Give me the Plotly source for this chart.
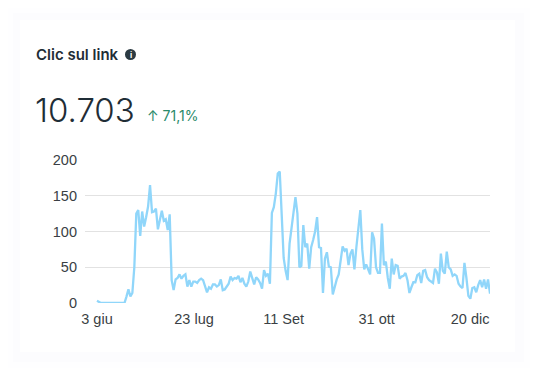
import plotly.graph_objects as go

W, H = 554, 392
title = "Clic sul link"
total = "10.703"
delta = "↑ 71,1%"
tick_pos = [0, 49.4, 95, 142.3, 189.9]
tick_labels = ["3 giu", "23 lug", "11 Set", "31 ott", "20 dic"]
y_ticks = [0, 50, 100, 150, 200]
clicks = [3, 1, 0, 0, 0, 0, 0, 0, 0, 0, 0, 0, 0, 0, 0, 9, 19, 9, 14, 50,
          125, 130, 94, 128, 107, 120, 135, 165, 127, 128, 132, 103, 115, 129, 115, 117, 102, 124, 32, 18,
          33, 35, 40, 34, 38, 40, 23, 32, 23, 30, 30, 28, 32, 34, 32, 22, 15, 22, 20, 26,
          26, 23, 25, 33, 18, 19, 24, 27, 37, 32, 35, 34, 38, 29, 35, 27, 23, 30, 44, 35,
          26, 36, 33, 28, 20, 46, 38, 41, 27, 126, 134, 153, 181, 184, 125, 63, 45, 32, 83, 106,
          132, 148, 125, 50, 52, 109, 78, 83, 48, 78, 88, 100, 120, 78, 77, 14, 62, 71, 51, 50,
          12, 24, 33, 40, 60, 79, 73, 76, 53, 69, 75, 47, 78, 105, 130, 75, 47, 54, 46, 40,
          99, 90, 50, 42, 42, 111, 53, 58, 35, 20, 62, 40, 53, 52, 34, 37, 38, 42, 32, 14,
          22, 29, 29, 39, 41, 28, 45, 46, 36, 32, 30, 28, 48, 43, 27, 69, 45, 41, 72, 50,
          47, 38, 40, 38, 27, 23, 21, 56, 35, 10, 6, 21, 22, 15, 25, 32, 22, 33, 20, 33, 13]
days = list(range(len(clicks)))


def px(x):
    return x / W


def py(y):
    return 1 - y / H


def rect(x0, y0, x1, y1, color):
    return dict(type="rect", xref="paper", yref="paper", x0=px(x0), x1=px(x1), y0=py(y1), y1=py(y0),
                fillcolor=color, line_width=0, layer="below")


shapes = [
    rect(8, 8, 530, 368, "#fefeff"),
    rect(13, 13, 524, 362, "#fcfcfe"),
    rect(20, 20, 515, 352, "#ffffff"),
    dict(type="circle", xref="paper", yref="paper", x0=px(125), x1=px(136), y0=py(60), y1=py(49),
         fillcolor="#2b3a42", line_width=0),
]


def label(text, x, y, size, color, family="Inter", anchor="left", weight=400):
    return dict(text=text, x=px(x), y=py(y), xref="paper", yref="paper", showarrow=False, xanchor=anchor,
                yanchor="middle", font=dict(family=family, size=size, color=color, weight=weight))


annotations = [
    label(title, 34, 54.5, 15, "#1f2d36", weight=600),
    label("<b>i</b>", 130.5, 54.5, 8, "#ffffff", anchor="center"),
    label(total, 33, 109.5, 33, "#1f2d36", weight=300),
    label(delta, 145, 115, 14, "#2a8a6a"),
]

fig = go.Figure(go.Scatter(x=days, y=clicks, mode="lines", line=dict(color="#90d6fa", width=2.3),
                           hoverinfo="skip", cliponaxis=False))
fig.update_layout(
    width=W, height=H, margin=dict(l=0, r=0, t=0, b=0), paper_bgcolor="#ffffff", plot_bgcolor="rgba(0,0,0,0)",
    showlegend=False, shapes=shapes, annotations=annotations,
    xaxis=dict(domain=[px(85), px(490)], range=[-6.1, 200], tickmode="array", tickvals=tick_pos,
               ticktext=tick_labels, showgrid=False, zeroline=False, showline=False, ticks="", automargin=False,
               ticklabelstandoff=5,
               tickfont=dict(family="Liberation Sans", size=14.5, color="#3a3f44")),
    yaxis=dict(domain=[py(303), py(160)], range=[0, 200], tickmode="array", tickvals=y_ticks, automargin=False,
               gridcolor="#e2e2e2", gridwidth=1.2, zeroline=False, showline=False, ticks="",
               ticklabelstandoff=7,
               tickfont=dict(family="Liberation Sans", size=14.5, color="#3a3f44")),
)
fig.write_html("out.html", post_script="document.body.style.margin='0';", config=dict(displayModeBar=False))
